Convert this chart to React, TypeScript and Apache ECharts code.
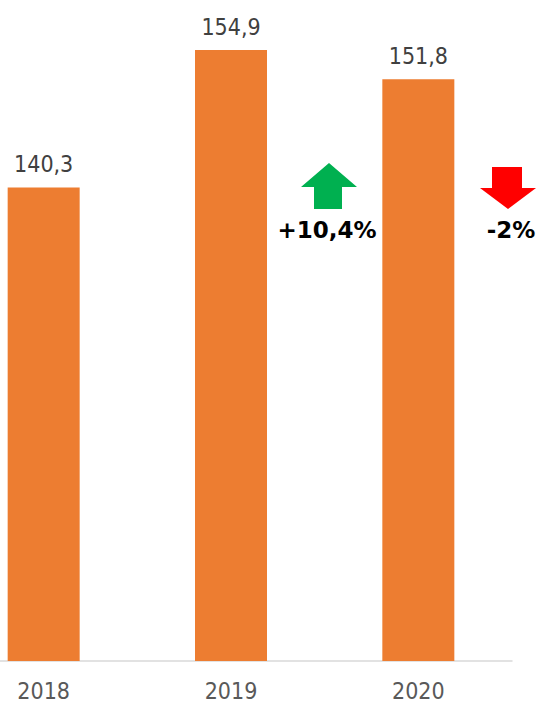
import React, { useEffect, useRef } from "react";
import * as echarts from "echarts";

const categories = ["2018", "2019", "2020"];
const values = [140.3, 154.9, 151.8];
const changeLabels = ["+10,4%", "-2%"];

const FONT = "'DejaVu Sans Condensed', 'DejaVu Sans', Tahoma, sans-serif";
const OFF = 50; // chart canvas starts left of the visible window

export default function App() {
  const ref = useRef<HTMLDivElement>(null);
  useEffect(() => {
    document.body.style.margin = "0";
    const chart = echarts.init(ref.current!, undefined, { renderer: "svg" });
    const sx = (x: number) => x + OFF;
    chart.setOption({
      animation: false,
      backgroundColor: "#ffffff",
      grid: { left: 0, right: 29, top: 2, bottom: 42, containLabel: false },
      xAxis: {
        type: "category",
        data: categories,
        axisLine: { lineStyle: { color: "#d9d9d9", width: 1.5 } },
        axisTick: { show: false },
        axisLabel: { color: "#595959", fontSize: 23, fontFamily: FONT, margin: 18 },
      },
      yAxis: {
        type: "value",
        min: 90,
        max: 160,
        show: false,
        splitLine: { show: false },
      },
      series: [
        {
          type: "bar",
          data: values,
          barWidth: 72,
          itemStyle: { color: "#ED7D31" },
          label: {
            show: true,
            position: "top",
            distance: 12,
            color: "#404040",
            fontSize: 23,
            fontFamily: FONT,
            formatter: (p: any) => String(p.value).replace(".", ","),
          },
        },
      ],
      graphic: [
        {
          type: "polygon",
          z: 100,
          shape: {
            points: [
              [sx(329), 163], [sx(357), 187], [sx(342), 187], [sx(342), 209],
              [sx(314), 209], [sx(314), 187], [sx(301), 187],
            ],
          },
          style: { fill: "#00B050" },
        },
        {
          type: "text",
          z: 100,
          x: sx(327),
          y: 230,
          style: {
            text: changeLabels[0],
            fill: "#000000",
            font: "bold 23px 'DejaVu Sans', Tahoma, sans-serif",
            align: "center",
            verticalAlign: "middle",
          },
        },
        {
          type: "polygon",
          z: 100,
          shape: {
            points: [
              [sx(492), 167], [sx(522), 167], [sx(522), 188], [sx(536), 188],
              [sx(508), 209], [sx(480), 188], [sx(492), 188],
            ],
          },
          style: { fill: "#FF0000" },
        },
        {
          type: "text",
          z: 100,
          x: sx(511),
          y: 230,
          style: {
            text: changeLabels[1],
            fill: "#000000",
            font: "bold 23px 'DejaVu Sans', Tahoma, sans-serif",
            align: "center",
            verticalAlign: "middle",
          },
        },
      ],
    });
    return () => chart.dispose();
  }, []);
  return (
    <div style={{ width: 541, height: 703, overflow: "hidden", position: "relative" }}>
      <div ref={ref} style={{ width: 541 + OFF, height: 703, marginLeft: -OFF }} />
    </div>
  );
}
